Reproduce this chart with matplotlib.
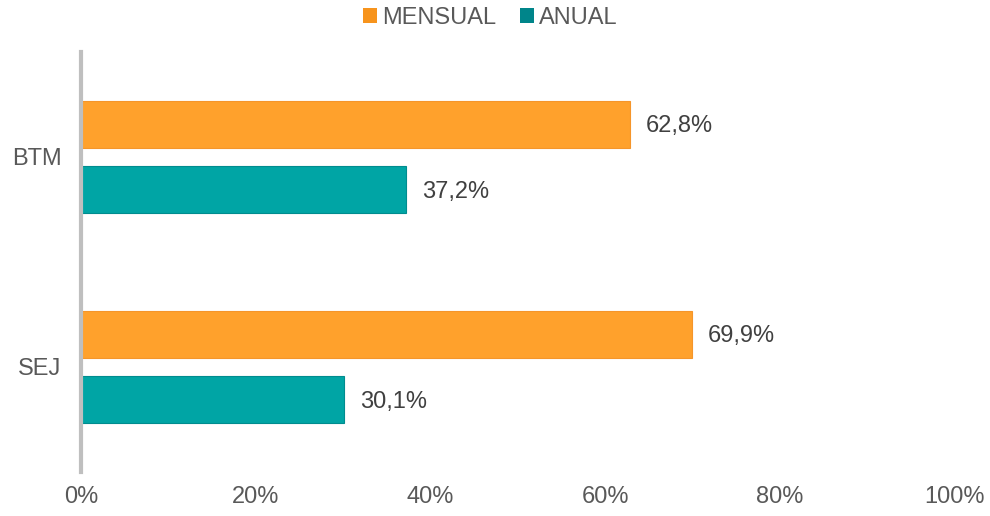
import matplotlib
matplotlib.use("Agg")
import matplotlib.pyplot as plt
import numpy as np
from matplotlib.patches import Patch

categories = ["BTM", "SEJ"]
mensual = [62.8, 69.9]
anual = [37.2, 30.1]
xticks = [0, 20, 40, 60, 80, 100]

plt.rcParams['font.family'] = ['Liberation Sans', 'DejaVu Sans']
txt = '#595959'
lbl = '#404040'
orange = '#FFA12C'
teal = '#00A5A5'
fs = 17

fig = plt.figure(figsize=(9.9, 5.16), dpi=100)
ax = fig.add_axes([0.0818, 0.0853, 0.8828, 0.814])

y = np.arange(len(categories))
h = 0.22
off = 0.155
b1 = ax.barh(y - off, mensual, height=h, color=orange, edgecolor='#F5952A', linewidth=0.8)
b2 = ax.barh(y + off, anual, height=h, color=teal, edgecolor='#008C8F', linewidth=0.8)

for bars, vals in ((b1, mensual), (b2, anual)):
    for rect, v in zip(bars, vals):
        ax.annotate(f"{v:.1f}%".replace('.', ','),
                    (rect.get_width(), rect.get_y() + rect.get_height() / 2),
                    xytext=(16, -2), textcoords='offset pixels',
                    va='center', ha='left', fontsize=fs, color=lbl)

ax.set_xlim(0, 100)
ax.set_ylim(1.5, -0.5)
ax.set_yticks(y)
ax.set_yticklabels(categories, fontsize=fs, color=txt)
ax.set_xticks(xticks)
ax.set_xticklabels([f"{t}%" for t in xticks], fontsize=fs, color=txt)
ax.tick_params(axis='both', length=0)
ax.tick_params(axis='y', pad=14)
ax.tick_params(axis='x', pad=10)
for s in ['top', 'right', 'bottom']:
    ax.spines[s].set_visible(False)
ax.spines['left'].set_color('#BFBFBF')
ax.spines['left'].set_linewidth(3)

handles = [Patch(facecolor='#F7941D', label='MENSUAL'), Patch(facecolor='#00858A', label='ANUAL')]
fig.legend(handles=handles, loc='center', bbox_to_anchor=(0.495, 0.966), ncol=2, frameon=False,
           fontsize=fs, labelcolor=txt, handlelength=0.6, handleheight=0.6, handletextpad=0.2,
           columnspacing=1.0)

fig.savefig('out.png', dpi=100)
